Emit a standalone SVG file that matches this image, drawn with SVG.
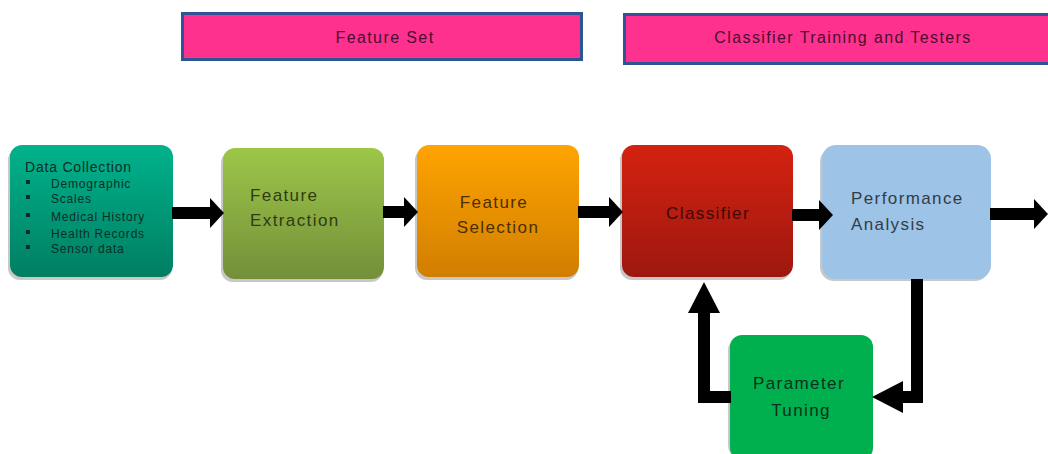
<svg xmlns="http://www.w3.org/2000/svg" width="1048" height="454" viewBox="0 0 1048 454">
<defs>
<linearGradient id="gTeal" x1="0" y1="0" x2="0" y2="1"><stop offset="0" stop-color="#00B38C"/><stop offset="1" stop-color="#007E62"/></linearGradient>
<linearGradient id="gGreen" x1="0" y1="0" x2="0" y2="1"><stop offset="0" stop-color="#9DC649"/><stop offset="1" stop-color="#738F39"/></linearGradient>
<linearGradient id="gOrange" x1="0" y1="0" x2="0" y2="1"><stop offset="0" stop-color="#FFA400"/><stop offset="1" stop-color="#D17E00"/></linearGradient>
<linearGradient id="gRed" x1="0" y1="0" x2="0" y2="1"><stop offset="0" stop-color="#D42211"/><stop offset="1" stop-color="#9E180F"/></linearGradient>
<marker id="ah" markerUnits="userSpaceOnUse" markerWidth="14" markerHeight="30" refX="0" refY="15" orient="auto"><path d="M0,0 L14,15 L0,30 Z" fill="#000"/></marker>
<marker id="ahBig" markerUnits="userSpaceOnUse" markerWidth="31" markerHeight="32" refX="0" refY="16" orient="auto"><path d="M0,0 L31,16 L0,32 Z" fill="#000"/></marker>
</defs>
<style>
.hdr{fill:#FF318E;stroke:#2F5496;stroke-width:3}
.htxt{font-family:"Liberation Sans",Arial,sans-serif;font-size:16px;fill:#4a0e30;text-anchor:middle;letter-spacing:1.4px}
.shadow{fill:#c8c8c8}
.ntxt{font-family:"Liberation Sans",Arial,sans-serif;font-size:17px;letter-spacing:1.4px}
.small{font-family:"Liberation Sans",Arial,sans-serif;font-size:12px;fill:#0a2e26;letter-spacing:0.8px}
.conn line, .conn path{stroke:#000;stroke-width:12;fill:none}
</style>

<g id="header-feature-set">
<rect class="hdr" x="182.5" y="13.5" width="399" height="46"/>
<text class="htxt" x="385" y="43">Feature Set</text>
</g>
<g id="header-classifier">
<rect class="hdr" x="624.5" y="14.5" width="430" height="49"/>
<text class="htxt" x="843" y="43">Classifier Training and Testers</text>
</g>

<g id="node-data-collection">
<rect class="shadow" x="8" y="148" width="164" height="132" rx="12"/>
<rect x="10" y="145" width="163" height="132" rx="12" fill="url(#gTeal)"/>
<text x="25" y="172" font-family="Liberation Sans, Arial, sans-serif" font-size="14" letter-spacing="0.8" fill="#0a2e26">Data Collection</text>
<g class="small">
<rect x="26" y="180" width="4" height="4" fill="#0a2e26"/><text x="51" y="188">Demographic</text>
<rect x="26" y="195" width="4" height="4" fill="#0a2e26"/><text x="51" y="203">Scales</text>
<rect x="26" y="213" width="4" height="4" fill="#0a2e26"/><text x="51" y="221">Medical History</text>
<rect x="26" y="230" width="4" height="4" fill="#0a2e26"/><text x="51" y="238">Health Records</text>
<rect x="26" y="245" width="4" height="4" fill="#0a2e26"/><text x="51" y="253">Sensor data</text>
</g>
</g>

<g id="node-feature-extraction">
<rect class="shadow" x="221" y="151" width="162" height="131" rx="12"/>
<rect x="223" y="148" width="161" height="131" rx="12" fill="url(#gGreen)"/>
<text class="ntxt" x="250" y="201" fill="#2f3c14">Feature</text>
<text class="ntxt" x="250" y="226" fill="#2f3c14">Extraction</text>
</g>

<g id="node-feature-selection">
<rect class="shadow" x="415" y="148" width="163" height="132" rx="12"/>
<rect x="417" y="145" width="162" height="132" rx="12" fill="url(#gOrange)"/>
<text class="ntxt" x="494" y="208" fill="#4a3000" text-anchor="middle">Feature</text>
<text class="ntxt" x="498" y="233" fill="#4a3000" text-anchor="middle">Selection</text>
</g>

<g id="node-classifier">
<rect class="shadow" x="620" y="148" width="171" height="132" rx="12"/>
<rect x="622" y="145" width="171" height="132" rx="12" fill="url(#gRed)"/>
<text class="ntxt" x="708" y="219" fill="#3e0a06" text-anchor="middle">Classifier</text>
</g>

<g id="node-performance-analysis">
<rect class="shadow" x="820" y="148" width="169" height="133" rx="14"/>
<rect x="822" y="145" width="169" height="134" rx="14" fill="#9DC3E6"/>
<text class="ntxt" x="851" y="204" fill="#333c46">Performance</text>
<text class="ntxt" x="851" y="230" fill="#333c46">Analysis</text>
</g>

<g id="node-parameter-tuning">
<rect class="shadow" x="728" y="338" width="145" height="120" rx="12"/>
<rect x="730" y="335" width="143" height="125" rx="12" fill="#00B04F"/>
<text class="ntxt" x="799" y="389" fill="#08301a" text-anchor="middle">Parameter</text>
<text class="ntxt" x="801" y="416" fill="#08301a" text-anchor="middle">Tuning</text>
</g>

<g class="conn" id="connectors">
<line x1="172" y1="213" x2="210" y2="213" marker-end="url(#ah)"/>
<line x1="383" y1="212" x2="404" y2="212" marker-end="url(#ah)"/>
<line x1="578" y1="212" x2="609" y2="212" marker-end="url(#ah)"/>
<line x1="792" y1="215" x2="819" y2="215" marker-end="url(#ah)"/>
<line x1="990" y1="214" x2="1034" y2="214" marker-end="url(#ah)"/>
<path d="M917,279 L917,397 L903,397" marker-end="url(#ahBig)"/>
<path d="M731,397 L704,397 L704,313" marker-end="url(#ahBig)"/>
</g>
</svg>
